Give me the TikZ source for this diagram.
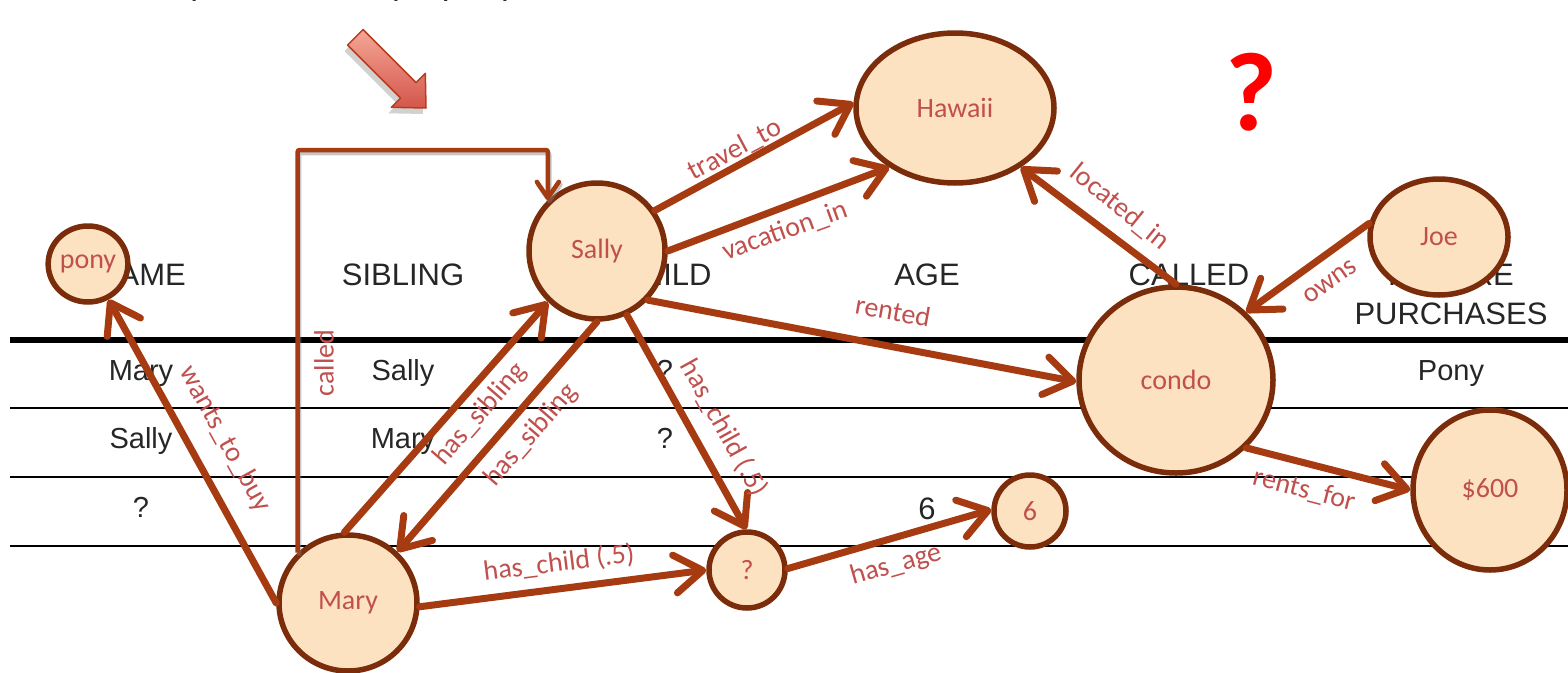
\documentclass[tikz,border=0pt]{standalone}
\usepackage{fontspec}
\setmainfont{Liberation Sans}
\newfontfamily\calfont{Carlito}
\usetikzlibrary{arrows.meta,shapes.geometric}
\definecolor{rust}{HTML}{A63A10}
\definecolor{nodeline}{HTML}{7B2C0B}
\definecolor{nodefill}{HTML}{FDE2C2}
\definecolor{lblred}{HTML}{C0504D}
\definecolor{ink}{HTML}{262626}
\definecolor{arrowlight}{HTML}{F4A797}
\definecolor{arrowdark}{HTML}{D4564A}
\definecolor{arrowedge}{HTML}{B83C1E}

\begin{document}
\begin{tikzpicture}[x=1pt,y=-1pt,
  ent/.style={ellipse, draw=nodeline, line width=5.5pt, fill=nodefill, inner sep=0pt,
              text=lblred, font=\calfont\fontsize{28}{30}\selectfont},
  rel/.style={draw=rust, line width=7pt, line cap=round,
              -{Straight Barb[length=28pt,width=38pt,round]}},
  calledline/.style={draw=rust, line width=4.5pt, rounded corners=2pt,
              -{Straight Barb[length=16pt,width=22pt,round]}},
  lbl/.style={text=lblred, font=\calfont\fontsize{28}{30}\selectfont, inner sep=0pt},
  hdr/.style={text=ink, font=\fontsize{31}{39}\selectfont, anchor=base, inner sep=0pt, align=center},
  cell/.style={text=ink, font=\fontsize{29}{32}\selectfont, anchor=base, inner sep=0pt},
  rulethin/.style={draw=black, line width=2.5pt},
  rulethick/.style={draw=black, line width=6pt},
]
\useasboundingbox (0,0) rectangle (1568,672);

% heading line, running off the top edge
\node[anchor=base west, inner sep=0pt, text=ink, font=\calfont\fontsize{37}{40}\selectfont]
  (heading) at (84,-5) {c)\hspace{15pt}Mary wants to buy a pony};

% ---- table ----
\draw[rulethick] (10,340) -- (1568,340);
\draw[rulethin] (10,408) -- (1568,408);
\draw[rulethin] (10,477) -- (1568,477);
\draw[rulethin] (10,546) -- (1568,546);

\node[hdr] (hname)  at (141,285) {NAME};
\node[hdr] (hsib)   at (403,285) {SIBLING};
\node[hdr] (hchild) at (665,285) {CHILD};
\node[hdr] (hage)   at (927,285) {AGE};
\node[hdr] (hcall)  at (1189,285) {CALLED};
\node[hdr] (hfut)   at (1451,324) {FUTURE\\PURCHASES};

\node[cell] (c11) at (141,380) {Mary};
\node[cell] (c12) at (403,380) {Sally};
\node[cell] (c13) at (665,380) {?};
\node[cell] (c16) at (1451,380) {Pony};
\node[cell] (c21) at (141,448) {Sally};
\node[cell] (c22) at (403,448) {Mary};
\node[cell] (c23) at (665,448) {?};
\node[cell] (c31) at (141,517) {?};
\node[cell, font=\fontsize{31}{32}\selectfont] (c34) at (927,519) {6};

% ---- pointer arrow ----
\begin{scope}[shift={(423,114)}, rotate=-45]
  \fill[black, opacity=.18] (0,0) -- (-25,24) -- (-25,11) -- (-100,11) -- (-100,-11) -- (-25,-11) -- (-25,-24) -- cycle;
\end{scope}
\begin{scope}[shift={(426,108)}, rotate=-45]
  \shade[top color=arrowlight, bottom color=arrowdark, draw=arrowedge, line width=1.5pt, line join=round]
    (0,0) -- (-25,24) -- (-25,11) -- (-100,11) -- (-100,-11) -- (-25,-11) -- (-25,-24) -- cycle;
\end{scope}

\node[text=red, inner sep=0pt, font=\calfont\bfseries\fontsize{112}{112}\selectfont] (qmark) at (1251,92) {?};

% ---- entities ----
\node[ent, minimum width=72pt,  minimum height=76pt]  (pony)   at (88,264)   {pony};
\node[ent, minimum width=136pt, minimum height=136pt] (Sally)  at (597,251)  {Sally};
\node[ent, minimum width=198pt, minimum height=150pt] (Hawaii) at (955,108)  {Hawaii};
\node[ent, minimum width=138pt, minimum height=116pt] (Joe)    at (1439,237) {Joe};
\node[ent, minimum width=194pt, minimum height=186pt] (condo)  at (1176,380) {condo};
\node[ent, minimum width=154pt, minimum height=160pt] (usd)    at (1490,490) {\$600};
\node[ent, minimum width=72pt,  minimum height=72pt]  (six)    at (1030,511) {6};
\node[ent, minimum width=76pt,  minimum height=76pt]  (child)  at (747,570)  {?};
\node[ent, minimum width=138pt, minimum height=136pt] (Mary)   at (348,603)  {Mary};

% ---- relations ----
\coordinate (calltop) at (0,150);
\draw[calledline, draw=gray, opacity=.45, transform canvas={xshift=1.5pt,yshift=-3pt}]
  (Mary.135) -- (Mary.135 |- calltop) -- (Sally.134 |- calltop) -- (Sally.134);
\draw[calledline] (Mary.135) -- (Mary.135 |- calltop) -- (Sally.134 |- calltop) -- (Sally.134);

\draw[rel] (Mary.180) -- (pony.-60);
\draw[rel] (Mary.93) -- (Sally.226);
\draw[rel] (Sally.-90) -- (Mary.46);
\draw[rel] (Sally.-65) -- (child.91);
\draw[rel] (Mary.-3) -- (child.180);
\draw[rel] (child.2) -- (six.178);
\draw[rel] (Sally.35) -- (Hawaii.177);
\draw[rel] (Sally.0) -- (Hawaii.222);
\draw[rel] (Sally.-44) -- (condo.181);
\draw[rel] (condo.90) -- (Hawaii.-42);
\draw[rel] (Joe.169) -- (condo.44);
\draw[rel] (condo.-44) -- (usd.180);

% ---- relation labels ----
\node[lbl, rotate=-61]   (lwants)   at (225,439)  {wants\_to\_buy};
\node[lbl, rotate=90]    (lcalled)  at (324,363)  {called};
\node[lbl, rotate=49]    (lsib1)    at (480,414)  {has\_sibling};
\node[lbl, rotate=49]    (lsib2)    at (531,435)  {has\_sibling};
\node[lbl, rotate=-61]   (lchild1)  at (724,428)  {has\_child (.5)};
\node[lbl, rotate=7]     (lchild2)  at (559,563)  {has\_child (.5)};
\node[lbl, rotate=16]    (lage)     at (896,565)  {has\_age};
\node[lbl, rotate=28]    (ltravel)  at (735,150)  {travel\_to};
\node[lbl, rotate=20]    (lvac)     at (785,231)  {vacation\_in};
\node[lbl, rotate=-10]   (lrent)    at (893,311)  {rented};
\node[lbl, rotate=-39]   (lloc)     at (1120,207) {located\_in};
\node[lbl, rotate=35]    (lowns)    at (1330,282) {owns};
\node[lbl, rotate=-14.5] (lrentfor) at (1304,490) {rents\_for};
\end{tikzpicture}
\end{document}
